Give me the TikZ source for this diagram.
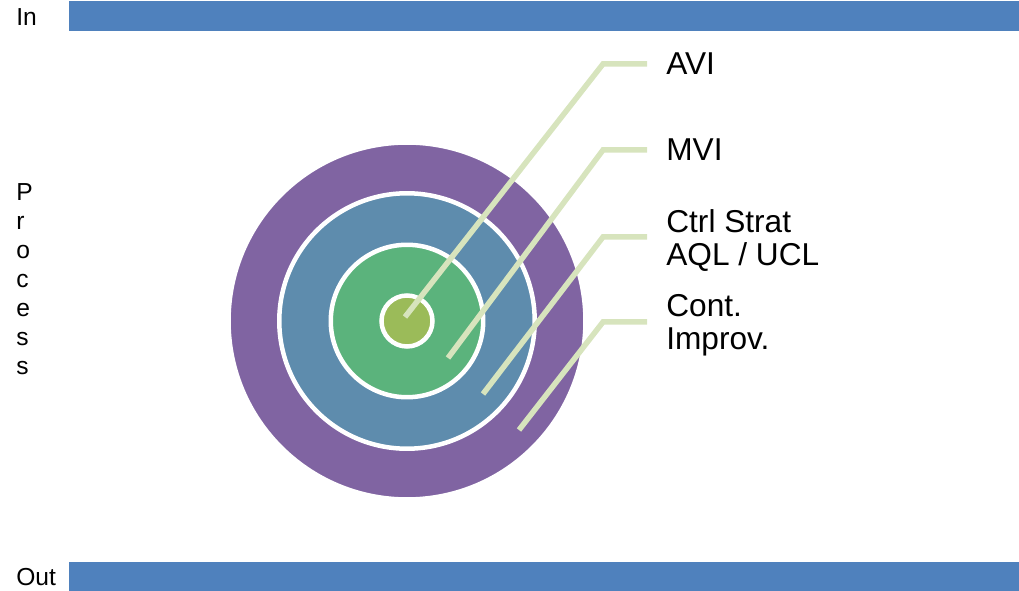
\documentclass[tikz,border=0pt]{standalone}
\usepackage{fontspec}
\setmainfont{Liberation Sans}
\usepackage{tikz}
\usetikzlibrary{positioning}
\definecolor{barblue}{RGB}{79,129,189}
\definecolor{ringpurple}{RGB}{128,100,162}
\definecolor{ringblue}{RGB}{94,140,173}
\definecolor{ringgreen}{RGB}{91,179,124}
\definecolor{coreolive}{RGB}{155,187,89}
\definecolor{leadgreen}{RGB}{215,228,189}
\tikzset{%
	ring/.style     = {circle, inner sep=0, draw=white, line width=0.09cm}, % disc with white edge
	bar/.style      = {fill=barblue}, % In / Out band
	side/.style     = {inner sep=0, align=left, font=\fontsize{14}{16.5}\selectfont}, % left text
	lbl/.style      = {inner sep=0, anchor=north west, align=left, font=\fontsize{18}{18.7}\selectfont}, % right text
	leader/.style   = {draw=leadgreen, line width=0.11cm, shorten >=0.38cm}, % label line
}

\begin{document}
\begin{tikzpicture}[x=0.02cm, y=-0.02cm]
	\useasboundingbox (0,0) rectangle (1019,591);
	% bands
	\fill[bar] (69,1) rectangle (1019,31);
	\fill[bar] (69,562) rectangle (1019,591);
	\node[side, anchor=west] (in) at (16,17) {In};
	\node[side, anchor=west] (out) at (16,577) {Out};
	\node[side, anchor=north west] (proc) at (16,183) {P\\r\\o\\c\\e\\s\\s};
	
	% target
	\node[ring, fill=ringpurple, minimum size=7.14cm] (ci) at (407,321) {};
	\node[ring, fill=ringblue, minimum size=5.11cm] (ctrl) at (ci.center) {};
	\node[ring, fill=ringgreen, minimum size=3.05cm] (mvi) at (ci.center) {};
	\node[ring, fill=coreolive, minimum size=1.02cm] (avi) at (ci.center) {};
	
	% labels
	\node[lbl] (avi-l) at (666,52.5) {AVI};
	\node[lbl] (mvi-l) at (666,138.5) {MVI};
	\node[lbl] (ctrl-l) at (666,209) {Ctrl Strat\\AQL / UCL};
	\node[lbl] (ci-l) at (666,294) {Cont.\\Improv.};
	
	\coordinate (avi-t) at (405,317);
	\coordinate (avi-b) at (603,64);
	\coordinate (mvi-t) at (448,358);
	\coordinate (mvi-b) at (603,150);
	\coordinate (ctrl-t) at (483,394);
	\coordinate (ctrl-b) at (603,237);
	\coordinate (ci-t) at (519,430);
	\coordinate (ci-b) at (603,322);
	\draw[leader] (avi-t) -- (avi-b) -- (avi-b -| avi-l.west);
	\draw[leader] (mvi-t) -- (mvi-b) -- (mvi-b -| mvi-l.west);
	\draw[leader] (ctrl-t) -- (ctrl-b) -- (ctrl-b -| ctrl-l.west);
	\draw[leader] (ci-t) -- (ci-b) -- (ci-b -| ci-l.west);
\end{tikzpicture}
\end{document}
